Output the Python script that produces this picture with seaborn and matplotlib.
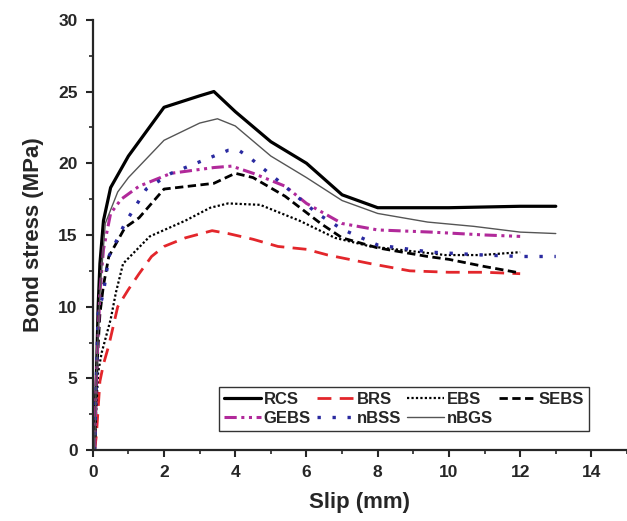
import matplotlib
matplotlib.use("Agg")
import matplotlib.pyplot as plt
import seaborn as sns
import pandas as pd
from matplotlib.ticker import MultipleLocator

rcs_x = [0.05, 0.1, 0.15, 0.2, 0.3, 0.5, 1.0, 2.0, 3.0, 3.4, 4.0, 5.0, 6.0, 7.0, 8.0, 10.0, 12.0, 13.0]
rcs_y = [0, 5, 10, 13, 16, 18.3, 20.5, 23.9, 24.7, 25.0, 23.6, 21.5, 20.0, 17.8, 16.9, 16.9, 17.0, 17.0]

brs_x = [0.05, 0.1, 0.2, 0.3, 0.45, 0.7, 1.0, 1.3, 1.65, 2.0, 2.6, 3.35, 3.8, 4.5, 5.2, 6.0, 6.6, 7.8, 8.9, 10.0, 11.0, 12.0]
brs_y = [0, 1, 4.8, 6, 7.3, 10, 11.2, 12.3, 13.5, 14.2, 14.8, 15.3, 15.1, 14.7, 14.2, 14.0, 13.6, 13.0, 12.5, 12.4, 12.4, 12.3]

ebs_x = [0.05, 0.1, 0.15, 0.25, 0.5, 0.65, 0.85, 1.6, 2.6, 3.3, 3.8, 4.7, 5.2, 5.8, 6.8, 7.8, 9.9, 10.9, 12.0]
ebs_y = [0, 3, 5.4, 6.8, 9.1, 11, 13, 14.9, 16.0, 16.9, 17.2, 17.1, 16.6, 16.0, 14.8, 14.2, 13.6, 13.6, 13.8]

sebs_x = [0.05, 0.1, 0.2, 0.3, 0.45, 0.9, 1.3, 2.0, 3.4, 4.0, 4.5, 5.4, 6.4, 7.0, 8.0, 9.4, 10.0, 11.0, 12.0]
sebs_y = [0, 5, 9.5, 11.5, 13.5, 15.5, 16.2, 18.2, 18.6, 19.3, 19.0, 17.7, 15.8, 14.8, 14.1, 13.5, 13.3, 12.8, 12.35]

gebs_x = [0.05, 0.1, 0.2, 0.3, 0.5, 0.8, 1.3, 2.2, 3.4, 3.9, 4.5, 5.4, 6.0, 7.0, 8.0, 9.5, 11.0, 12.0]
gebs_y = [0, 5, 11, 14, 16.5, 17.5, 18.4, 19.3, 19.7, 19.8, 19.3, 18.4, 17.2, 15.8, 15.35, 15.2, 15.0, 14.9]

nbss_x = [0.05, 0.1, 0.15, 0.3, 0.45, 0.9, 1.5, 2.2, 3.2, 3.8, 4.1, 4.4, 5.2, 6.3, 7.0, 8.0, 9.5, 11.0, 12.0, 13.0]
nbss_y = [0, 5, 9.5, 11, 13.5, 15.8, 18.2, 19.3, 20.3, 20.9, 20.9, 20.4, 18.8, 16.5, 15.4, 14.3, 13.8, 13.6, 13.5, 13.5]

nbgs_x = [0.05, 0.1, 0.2, 0.35, 0.7, 1.0, 2.0, 3.0, 3.5, 4.0, 5.0, 6.0, 7.0, 8.0, 9.4, 10.7, 12.0, 13.0]
nbgs_y = [0, 5, 11, 15.8, 18, 19, 21.6, 22.8, 23.1, 22.6, 20.5, 19.0, 17.4, 16.5, 15.9, 15.6, 15.2, 15.1]

labels = ["RCS", "BRS", "EBS", "SEBS", "GEBS", "nBSS", "nBGS"]
xs = [rcs_x, brs_x, ebs_x, sebs_x, gebs_x, nbss_x, nbgs_x]
ys = [rcs_y, brs_y, ebs_y, sebs_y, gebs_y, nbss_y, nbgs_y]

styles = {
    "RCS": dict(color="black", lw=2.3, ls="-"),
    "BRS": dict(color="#e3262b", lw=2.0, ls=(0, (5, 3))),
    "EBS": dict(color="black", lw=1.6, ls=(0, (1, 1))),
    "SEBS": dict(color="black", lw=2.0, ls=(0, (3, 1.6))),
    "GEBS": dict(color="#b1299a", lw=2.2, ls=(0, (4, 1.5, 1, 1.5, 1, 1.5))),
    "nBSS": dict(color="#2a2aa0", lw=2.4, ls=(0, (1, 3.5))),
    "nBGS": dict(color="#555555", lw=1.0, ls="-"),
}

sns.set_style("ticks")
plt.rcParams["font.family"] = ["Liberation Sans", "DejaVu Sans"]
plt.rcParams["font.weight"] = "bold"

fig = plt.figure(figsize=(6.27, 5.21), dpi=100)
ax = fig.add_axes([0.148, 0.136, 0.852, 0.826])

for lab, x, y in zip(labels, xs, ys):
    df = pd.DataFrame({"Slip": x, "Stress": y})
    st = styles[lab]
    sns.lineplot(data=df, x="Slip", y="Stress", ax=ax, sort=False, estimator=None,
                 color=st["color"], linewidth=st["lw"], linestyle=st["ls"], label=lab)

ax.set_xlim(0, 15)
ax.set_ylim(0, 30)
ax.xaxis.set_major_locator(MultipleLocator(2))
ax.xaxis.set_minor_locator(MultipleLocator(1))
ax.yaxis.set_major_locator(MultipleLocator(5))
ax.yaxis.set_minor_locator(MultipleLocator(2.5))
ax.tick_params(which="major", direction="out", length=5, width=1.5, labelsize=12.5, pad=6)
ax.tick_params(which="minor", direction="out", length=3, width=1.2)
for lbl in ax.get_xticklabels() + ax.get_yticklabels():
    lbl.set_fontweight("bold")
ax.spines["top"].set_visible(False)
ax.spines["right"].set_visible(False)
ax.spines["left"].set_linewidth(1.6)
ax.spines["bottom"].set_linewidth(1.6)
ax.set_xlabel("Slip (mm)", fontsize=16, fontweight="bold", labelpad=8)
ax.set_ylabel("Bond stress (MPa)", fontsize=16, fontweight="bold", labelpad=10)

handles, labs = ax.get_legend_handles_labels()
order = [0, 4, 1, 5, 2, 6, 3]
leg = ax.legend([handles[i] for i in order], [labs[i] for i in order],
                loc="lower left", bbox_to_anchor=(0.236, 0.045), ncol=4,
                frameon=True, fancybox=False, handlelength=2.2, handletextpad=0.2,
                columnspacing=0.35, borderpad=0.3, labelspacing=0.25, borderaxespad=0,
                prop={"weight": "bold", "size": 12})
leg.get_frame().set_edgecolor("black")
leg.get_frame().set_linewidth(1.0)

fig.savefig("out.png", dpi=100)
